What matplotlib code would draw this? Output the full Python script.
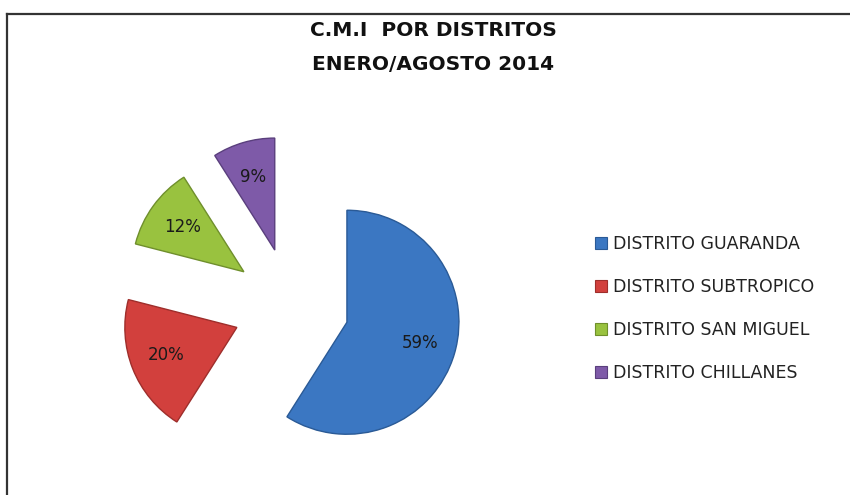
import matplotlib.pyplot as plt
from matplotlib.lines import Line2D

distritos = ["DISTRITO GUARANDA", "DISTRITO SUBTROPICO",
             "DISTRITO SAN MIGUEL", "DISTRITO CHILLANES"]
porcentajes = [59, 20, 12, 9]
colores = ["#3B77C2", "#D2403D", "#99C23F", "#7E5AA8"]
bordes = ["#2A5A96", "#9E2E2B", "#6F8F2C", "#5A3F7D"]

W, H = 850, 495
fig = plt.figure(figsize=(W / 100, H / 100), dpi=100)

# marco del grafico (solo izquierda y arriba visibles)
fig.add_artist(Line2D([7 / W, 7 / W], [0, 1 - 14 / H], color="#333333", lw=1.6))
fig.add_artist(Line2D([7 / W, 1], [1 - 14 / H, 1 - 14 / H], color="#333333", lw=1.6))

fig.text(433 / W, 1 - 31 / H, "C.M.I  POR DISTRITOS", ha="center", va="center",
         fontsize=14.5, fontweight="bold", color="#111111")
fig.text(433 / W, 1 - 65 / H, "ENERO/AGOSTO 2014", ha="center", va="center",
         fontsize=14.5, fontweight="bold", color="#111111")

# ejes del pastel: centro en (291, 306) px, radio 112 px
L = 1.7
r_px = 112
size = 2 * L * r_px
cx, cy = 291, H - 306
ax = fig.add_axes([(cx - size / 2) / W, (cy - size / 2) / H, size / W, size / H])

wedges, texts, autotexts = ax.pie(
    porcentajes, colors=colores, startangle=90, counterclock=False,
    explode=[0.52] * 4, autopct=lambda p: f"{round(p)}%", pctdistance=0.68,
    wedgeprops=dict(linewidth=1.0),
    textprops=dict(fontsize=12, color="#1a1a1a"))
for w, b in zip(wedges, bordes):
    w.set_edgecolor(b)
ax.set_xlim(-L, L)
ax.set_ylim(-L, L)
ax.set_aspect("equal")
ax.axis("off")

handles = [Line2D([], [], marker="s", linestyle="none", markersize=8,
                  markerfacecolor=c, markeredgecolor=b, markeredgewidth=0.8)
           for c, b in zip(colores, bordes)]
fig.legend(handles, distritos, loc="upper left",
           bbox_to_anchor=(578 / W, 1 - 219 / H), frameon=False,
           fontsize=12.5, labelspacing=1.45, handletextpad=0.3,
           handlelength=0.8, labelcolor="#222222")

fig.savefig("out.png", dpi=100)
